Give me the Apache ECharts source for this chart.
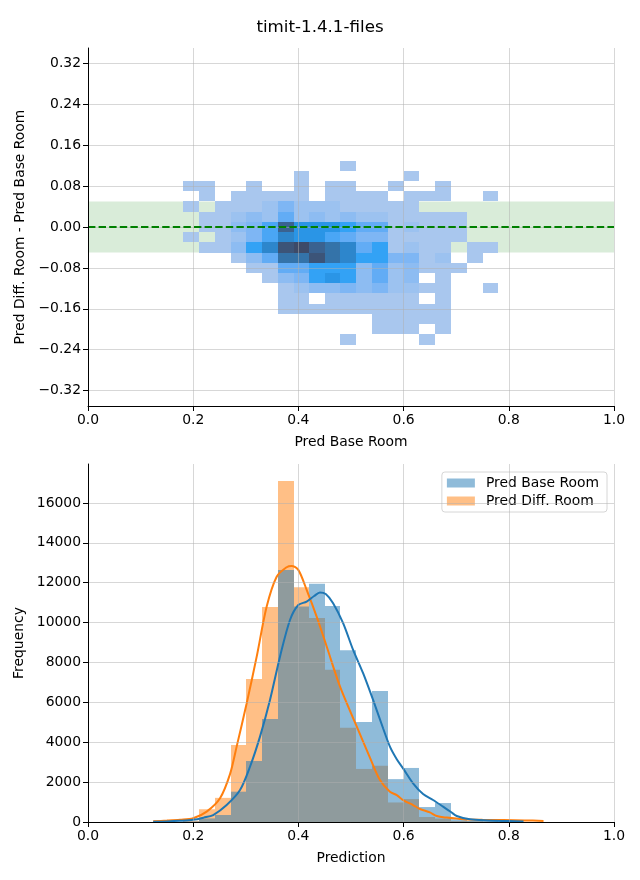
<!DOCTYPE html>
<html><head><meta charset="utf-8">
<script src="https://cdn.jsdelivr.net/npm/echarts@6/dist/echarts.min.js"></script>
<style>html,body{margin:0;padding:0;background:#fff;}#chart{width:640px;height:880px;}</style>
</head><body><div id="chart"></div>
<script>
const titleText = 'timit-1.4.1-files';
// shared x bin edges (Pred Base Room)
const binEdges = [0.181, 0.211, 0.241, 0.271, 0.301, 0.331, 0.361, 0.391, 0.420, 0.450, 0.480,
                  0.510, 0.540, 0.570, 0.600, 0.630, 0.660, 0.690, 0.720, 0.750, 0.780];
// y bin edges of the 2D histogram (top to bottom)
const diffEdges = [0.13, 0.11, 0.09, 0.07, 0.05, 0.03, 0.01, -0.01, -0.03, -0.05, -0.07,
                   -0.09, -0.11, -0.13, -0.15, -0.17, -0.19, -0.21, -0.23];
// 2D histogram counts (relative), rows top->bottom, columns left->right
const heatCounts = [
  [0,0,0,0,0,0,0,0,0,0,1,0,0,0,0,0,0,0,0,0],
  [0,0,0,0,0,0,0,1,0,0,0,0,0,0,1,0,0,0,0,0],
  [1,1,0,0,1,0,0,1,0,1,1,0,0,1,0,0,1,0,0,0],
  [0,1,0,1,1,1,1,1,0,1,1,1,1,0,1,1,1,0,0,1],
  [1,0,1,1,1,2,4,2,2,2,1,1,1,1,1,0,0,0,0,0],
  [0,1,1,2,3,2,5,2,3,2,3,2,2,1,1,1,1,1,0,0],
  [0,1,1,3,4,6,11,8,8,8,7,5,5,1,2,1,1,1,0,0],
  [1,0,1,2,4,6,9,8,8,6,5,4,4,1,1,1,1,1,0,0],
  [0,1,1,3,7,9,12,13,11,10,9,5,7,1,2,1,1,0,1,1],
  [0,0,0,1,3,5,10,10,12,10,9,7,7,4,4,1,2,0,1,0],
  [0,0,0,0,1,1,5,5,7,7,7,3,5,2,3,1,1,1,0,0],
  [0,0,0,0,0,1,3,4,7,8,7,3,5,2,3,0,1,0,0,0],
  [0,0,0,0,0,0,1,2,3,3,4,3,4,2,2,1,1,0,0,1],
  [0,0,0,0,0,0,1,1,0,1,1,1,1,1,1,0,1,0,0,0],
  [0,0,0,0,0,0,1,1,1,1,1,1,1,1,1,1,1,0,0,0],
  [0,0,0,0,0,0,0,0,0,0,0,0,1,1,1,1,1,0,0,0],
  [0,0,0,0,0,0,0,0,0,0,0,0,1,1,1,0,1,0,0,0],
  [0,0,0,0,0,0,0,0,0,0,1,0,0,0,0,1,0,0,0,0]
];
const toleranceBand = [-0.05, 0.05];
const zeroLine = 0;
const xTicks = [0, 0.2, 0.4, 0.6, 0.8, 1.0];
const diffTicks = [-0.32, -0.24, -0.16, -0.08, 0, 0.08, 0.16, 0.24, 0.32];
const freqTicks = [0, 2000, 4000, 6000, 8000, 10000, 12000, 14000, 16000];

// 1D histograms (counts per bin of binEdges)
const seriesNames = ['Pred Base Room', 'Pred Diff. Room'];
const baseRoomCounts = [30, 180, 350, 1520, 3060, 5160, 12640, 10800, 11940, 10830,
                        8610, 5020, 6570, 2150, 2710, 750, 950, 134, 60, 40];
const diffRoomCounts = [60, 640, 1210, 3860, 7170, 10780, 17100, 11770, 10230, 7640,
                        4730, 2660, 2820, 980, 1150, 250, 170, 50, 40, 30];
// KDE curves scaled to counts
const baseRoomKde = [[0.124,15],[0.15,30],[0.175,60],[0.2,110],[0.22,220],[0.238,350],[0.2636,850],
  [0.289,1600],[0.308,2770],[0.327,4280],[0.346,6120],[0.365,8290],[0.384,10130],[0.3998,10880],
  [0.4157,11050],[0.43,11330],[0.441,11510],[0.452,11430],[0.466,10970],[0.485,9970],[0.504,8630],
  [0.523,7460],[0.542,6120],[0.561,4700],[0.574,3780],[0.587,3150],[0.600,2650],[0.618,1940],
  [0.637,1400],[0.656,1103],[0.675,769],[0.69,500],[0.701,300],[0.726,134],[0.76,80],[0.80,45],[0.828,20]];
const diffRoomKde = [[0.124,40],[0.15,70],[0.175,110],[0.2,185],[0.2256,520],[0.251,1190],[0.27,2400],
  [0.2826,3780],[0.3017,5950],[0.3207,8290],[0.3397,10800],[0.3587,12300],[0.3777,12775],[0.387,12840],
  [0.3998,12640],[0.4157,11640],[0.4347,10300],[0.4538,8800],[0.479,6800],[0.511,4780],[0.536,3230],
  [0.555,2107],[0.574,1520],[0.587,1350],[0.600,1080],[0.618,850],[0.631,650],[0.65,480],[0.663,300],
  [0.682,220],[0.7135,134],[0.75,110],[0.79,100],[0.83,80],[0.866,55]];

const heatColors = ['#a9c7ee','#9cc2f0','#8dbcf2','#7eb6f4','#62acf5','#4aa6f5','#33a2f5',
                    '#2a95e6','#2d86cc','#3473a9','#3a6290','#3c5478','#3d4a68'];
const FONT = 'DejaVu Sans';
const fs = 13.9;

const heatData = [];
heatCounts.forEach((row, r) => row.forEach((c, k) => {
  if (c > 0) heatData.push([binEdges[k], binEdges[k + 1], diffEdges[r + 1], diffEdges[r], c]);
}));
const histData = counts => counts.map((c, k) => [binEdges[k], binEdges[k + 1], c]);

function heatRender(params, api) {
  const a = api.coord([api.value(0), api.value(3)]);
  const b = api.coord([api.value(1), api.value(2)]);
  const x = Math.round(a[0]), y = Math.round(a[1]);
  return { type: 'rect', shape: { x: x, y: y, width: Math.round(b[0]) - x, height: Math.round(b[1]) - y },
           style: { fill: api.visual('color') } };
}
function barRender(color) {
  return function (params, api) {
    const a = api.coord([api.value(0), api.value(2)]);
    const b = api.coord([api.value(1), 0]);
    const x = Math.round(a[0]);
    return { type: 'rect', shape: { x: x, y: a[1], width: Math.round(b[0]) - x, height: b[1] - a[1] },
             style: { fill: color } };
  };
}

function axisBase(extra) {
  return Object.assign({
    type: 'value',
    z: 5,
    axisLine: { show: true, onZero: false, lineStyle: { color: '#000', width: 1 } },
    axisTick: { show: true, length: 5, lineStyle: { color: '#000', width: 1 } },
    axisLabel: { color: '#000', fontSize: fs, fontFamily: FONT, margin: 7 },
    splitLine: { show: true, lineStyle: { color: 'rgba(176,176,176,0.5)', width: 1 } },
    nameLocation: 'middle',
    nameTextStyle: { color: '#000', fontSize: fs, fontFamily: FONT }
  }, extra);
}
const fmtX = v => v.toFixed(1);
const fmtDiff = v => (v < 0 ? '\u2212' : '') + Math.abs(v).toFixed(2);

const chart = echarts.init(document.getElementById('chart'), null, { renderer: 'canvas' });
chart.setOption({
  animation: false,
  backgroundColor: '#fff',
  title: { text: titleText, left: 'center', top: 14,
           textStyle: { fontSize: 16.7, fontWeight: 'normal', color: '#000', fontFamily: FONT } },
  grid: [
    { left: 88, top: 48, width: 526, height: 358 },
    { left: 88, top: 464, width: 526, height: 358 }
  ],
  xAxis: [
    axisBase({ gridIndex: 0, min: 0, max: 1, interval: 0.2, name: 'Pred Base Room', nameGap: 29,
      axisLabel: { color: '#000', fontSize: fs, fontFamily: FONT, margin: 7, formatter: fmtX } }),
    axisBase({ gridIndex: 1, min: 0, max: 1, interval: 0.2, name: 'Prediction', nameGap: 29,
      axisLabel: { color: '#000', fontSize: fs, fontFamily: FONT, margin: 7, formatter: fmtX } })
  ],
  yAxis: [
    axisBase({ gridIndex: 0, min: -0.35, max: 0.35, name: 'Pred Diff. Room - Pred Base Room', nameGap: 56,
      axisTick: { show: true, length: 5, customValues: diffTicks, lineStyle: { color: '#000', width: 1 } },
      axisLabel: { color: '#000', fontSize: fs, fontFamily: FONT, margin: 7, customValues: diffTicks, formatter: fmtDiff } }),
    axisBase({ gridIndex: 1, min: 0, max: 17950, name: 'Frequency', nameGap: 55,
      axisTick: { show: true, length: 5, customValues: freqTicks, lineStyle: { color: '#000', width: 1 } },
      axisLabel: { color: '#000', fontSize: fs, fontFamily: FONT, margin: 7, customValues: freqTicks, formatter: v => String(v) } })
  ],
  visualMap: { type: 'continuous', show: false, seriesIndex: 1, dimension: 4, min: 1, max: 13,
               inRange: { color: heatColors } },
  legend: {
    orient: 'vertical', right: 33, top: 472, padding: [4, 8, 4, 5], itemGap: 4,
    itemWidth: 28, itemHeight: 9, backgroundColor: '#fff', borderColor: '#d6d6d6', borderWidth: 1, borderRadius: 3,
    textStyle: { fontSize: fs, fontFamily: FONT, color: '#000', padding: [0, 0, 0, 6] },
    data: [
      { name: seriesNames[0], icon: 'rect', itemStyle: { color: 'rgba(31,119,180,0.5)' } },
      { name: seriesNames[1], icon: 'rect', itemStyle: { color: 'rgba(255,127,14,0.5)' } }
    ]
  },
  series: [
    { type: 'line', xAxisIndex: 0, yAxisIndex: 0, data: [], z: 1, silent: true,
      markArea: { silent: true, itemStyle: { color: 'rgba(0,128,0,0.15)' },
        data: [[{ xAxis: 0, yAxis: toleranceBand[0] }, { xAxis: 1, yAxis: toleranceBand[1] }]] } },
    { type: 'custom', name: 'heat', xAxisIndex: 0, yAxisIndex: 0, z: 2, renderItem: heatRender,
      encode: { x: [0, 1], y: [2, 3] }, data: heatData, clip: true },
    { type: 'line', xAxisIndex: 0, yAxisIndex: 0, data: [], z: 6, silent: true,
      markLine: { silent: true, symbol: ['none', 'none'], label: { show: false },
        lineStyle: { color: '#008000', width: 2, type: [7.4, 3.2] },
        data: [{ yAxis: zeroLine }] } },
    { type: 'custom', name: seriesNames[1], xAxisIndex: 1, yAxisIndex: 1, z: 2,
      renderItem: barRender('rgba(255,127,14,0.5)'), itemStyle: { color: 'rgba(255,127,14,0.5)' },
      encode: { x: [0, 1], y: 2 }, data: histData(diffRoomCounts) },
    { type: 'custom', name: seriesNames[0], xAxisIndex: 1, yAxisIndex: 1, z: 3,
      renderItem: barRender('rgba(31,119,180,0.5)'), itemStyle: { color: 'rgba(31,119,180,0.5)' },
      encode: { x: [0, 1], y: 2 }, data: histData(baseRoomCounts) },
    { type: 'line', name: 'kde diff', xAxisIndex: 1, yAxisIndex: 1, z: 4, data: diffRoomKde,
      showSymbol: false, smooth: 0.3, lineStyle: { color: '#ff7f0e', width: 2 }, itemStyle: { color: '#ff7f0e' } },
    { type: 'line', name: 'kde base', xAxisIndex: 1, yAxisIndex: 1, z: 4, data: baseRoomKde,
      showSymbol: false, smooth: 0.3, lineStyle: { color: '#1f77b4', width: 2 }, itemStyle: { color: '#1f77b4' } }
  ]
});
</script></body></html>
